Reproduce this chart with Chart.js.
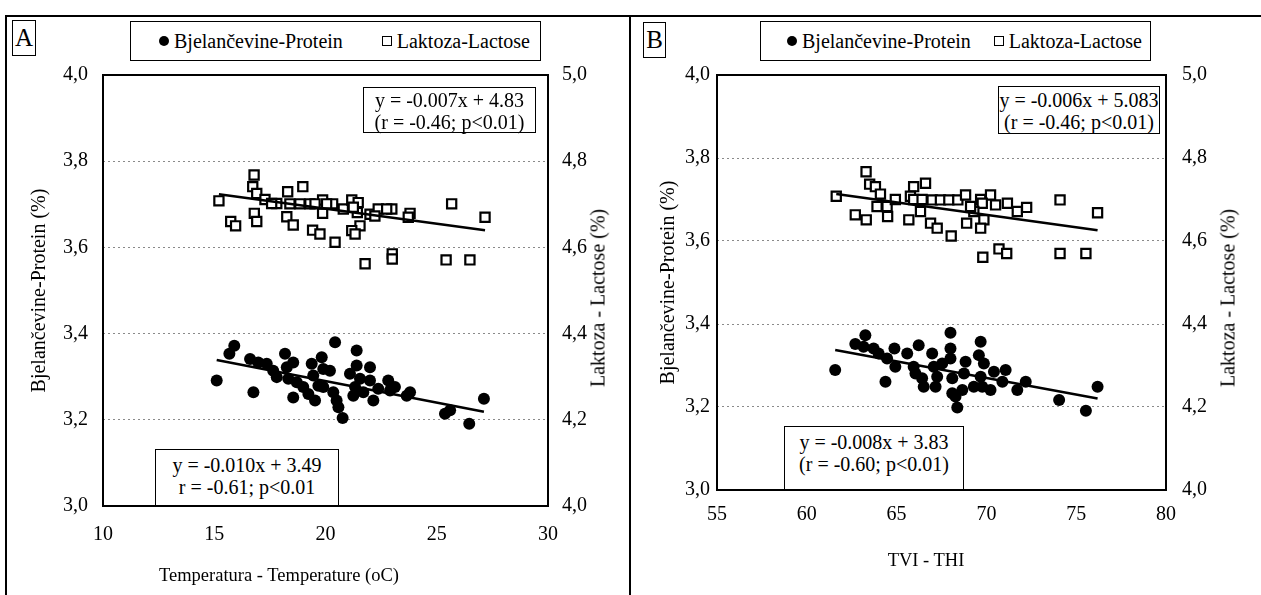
<!DOCTYPE html>
<html>
<head>
<meta charset="utf-8">
<script src="https://cdn.jsdelivr.net/npm/chart.js@4"></script>
<style>
  body { margin: 0; background: #fff; font-family: "Liberation Serif", "Times New Roman", serif; color: #000; }
  #page { position: relative; width: 1261px; height: 595px; overflow: hidden; }
  canvas { position: absolute; top: 0; }
  .ln { position: absolute; background: #000; }
  .box { position: absolute; border: 1.5px solid #000; background: #fff; box-sizing: border-box; }
  .tag { font-size: 25px; text-align: center; line-height: 34px; }
  .legend { font-size: 20px; display: flex; align-items: center; justify-content: space-between; }
  .dot { display: inline-block; width: 10px; height: 10px; border-radius: 50%; background: #000; margin-right: 5px; vertical-align: middle; position: relative; top: -2px; }
  .sq { display: inline-block; width: 8px; height: 8px; border: 1.5px solid #000; margin-right: 5px; vertical-align: middle; position: relative; top: -2px; }
  .eq { font-size: 20px; line-height: 22px; text-align: center; }
  .rtitle { position: absolute; font-size: 20px; white-space: nowrap; transform: translate(-50%, -50%) rotate(-90deg); }
  .xtitle { position: absolute; font-size: 18.5px; white-space: nowrap; transform: translate(-50%, -50%); }
</style>
</head>
<body>
<div id="page">
  <canvas id="chartA" width="630" height="595" style="left:0"></canvas>
  <canvas id="chartB" width="631" height="595" style="left:630px"></canvas>

  <div class="ln" style="left:5px;top:15px;width:1256px;height:1.5px"></div>
  <div class="ln" style="left:5px;top:15px;width:1.5px;height:580px"></div>
  <div class="ln" style="left:629px;top:15px;width:1.5px;height:580px"></div>

  <div class="box tag" style="left:12px;top:20px;width:24px;height:36px">A</div>
  <div class="box legend" style="left:130px;top:21px;width:411px;height:40px;padding:0 10px 0 28px">
    <span><span class="dot"></span>Bjelančevine-Protein</span>
    <span><span class="sq"></span>Laktoza-Lactose</span>
  </div>
  <div class="box eq" style="left:363px;top:87px;width:173px;height:46px;padding-top:1px">y = -0.007x + 4.83<br>(r = -0.46; p&lt;0.01)</div>
  <div class="box eq" style="left:155px;top:449px;width:184px;height:57px;padding-top:4px">y = -0.010x + 3.49<br>r = -0.61; p&lt;0.01</div>
  <div class="rtitle" style="left:598px;top:298px">Laktoza - Lactose (%)</div>
  <div class="xtitle" style="left:279px;top:575px">Temperatura - Temperature (oC)</div>

  <div class="box tag" style="left:643px;top:22px;width:23px;height:36px">B</div>
  <div class="box legend" style="left:760px;top:21px;width:391px;height:40px;padding:0 8px 0 26px">
    <span><span class="dot"></span>Bjelančevine-Protein</span>
    <span><span class="sq"></span>Laktoza-Lactose</span>
  </div>
  <div class="box eq" style="left:998px;top:86px;width:162px;height:48px;padding-top:2px">y = -0.006x + 5.083<br>(r = -0.46; p&lt;0.01)</div>
  <div class="box eq" style="left:784px;top:426px;width:180px;height:64px;padding-top:4px">y = -0.008x + 3.83<br>(r = -0.60; p&lt;0.01)</div>
  <div class="rtitle" style="left:1228px;top:298px">Laktoza - Lactose (%)</div>
  <div class="xtitle" style="left:926px;top:560px">TVI - THI</div>
</div>

<script>
// panel A - temperatura
var tempProteinX = [15.11, 15.90, 15.68, 16.76, 16.61, 16.98, 17.36, 17.65, 17.81, 18.18,
  18.55, 18.26, 18.33, 18.71, 18.55, 19.00, 19.38, 19.83, 19.90, 19.45,
  19.68, 19.23, 19.53, 19.90, 20.20, 20.43, 20.35, 20.50, 20.58, 20.77,
  21.40, 21.40, 21.10, 21.55, 21.33, 21.25, 21.70, 22.00, 22.00, 22.15,
  22.37, 22.82, 22.90, 23.12, 23.80, 23.65, 25.37, 25.60, 26.46, 27.12];
var tempProteinY = [3.291, 3.372, 3.353, 3.264, 3.341, 3.333, 3.330, 3.314, 3.299, 3.353,
  3.333, 3.322, 3.295, 3.287, 3.252, 3.276, 3.330, 3.345, 3.318, 3.303,
  3.279, 3.260, 3.245, 3.276, 3.314, 3.380, 3.264, 3.245, 3.229, 3.204,
  3.361, 3.326, 3.307, 3.295, 3.276, 3.256, 3.264, 3.322, 3.291, 3.245,
  3.272, 3.291, 3.268, 3.276, 3.264, 3.256, 3.214, 3.222, 3.191, 3.249];

var tempLactoseX = [15.21, 16.79, 16.73, 16.91, 17.28, 16.80, 16.91, 15.74, 15.96, 17.81,
  18.30, 18.98, 18.26, 18.55, 18.40, 18.85, 19.30, 19.87, 19.87, 20.32,
  20.80, 19.42, 19.75, 20.43, 21.18, 21.47, 21.43, 21.55, 21.18, 21.33,
  22.00, 22.37, 22.98, 23.80, 23.72, 25.67, 27.17, 21.78, 23.00, 23.00,
  25.42, 26.49, 17.58, 19.53, 20.05, 21.25, 22.22, 22.75];
var tempLactoseY = [4.708, 4.768, 4.741, 4.725, 4.711, 4.679, 4.660, 4.660, 4.650, 4.702,
  4.729, 4.741, 4.671, 4.652, 4.701, 4.701, 4.701, 4.710, 4.679, 4.701,
  4.689, 4.640, 4.631, 4.612, 4.710, 4.704, 4.681, 4.650, 4.639, 4.631,
  4.677, 4.689, 4.689, 4.679, 4.670, 4.701, 4.670, 4.562, 4.585, 4.573,
  4.571, 4.571, 4.702, 4.701, 4.701, 4.693, 4.673, 4.689];

// panel B - TVI
var thiProteinX = [61.58, 63.26, 62.70, 63.16, 63.72, 64.00, 64.38, 64.47, 64.88, 64.93,
  65.59, 66.23, 65.95, 66.05, 66.42, 66.51, 66.98, 67.07, 67.26, 67.17,
  67.54, 68.00, 68.00, 68.00, 68.10, 68.10, 68.38, 68.66, 68.84, 68.75,
  69.68, 69.58, 69.86, 69.68, 69.77, 70.23, 70.42, 71.07, 70.89, 71.72,
  72.19, 74.05, 75.54, 76.19, 68.28, 69.30];
var thiProteinY = [3.289, 3.373, 3.352, 3.345, 3.341, 3.329, 3.261, 3.317, 3.341, 3.297,
  3.329, 3.349, 3.297, 3.281, 3.269, 3.249, 3.329, 3.297, 3.273, 3.249,
  3.305, 3.379, 3.341, 3.317, 3.269, 3.233, 3.199, 3.241, 3.309, 3.281,
  3.357, 3.325, 3.305, 3.273, 3.249, 3.241, 3.285, 3.289, 3.261, 3.241,
  3.261, 3.217, 3.191, 3.249, 3.225, 3.249];

var thiLactoseX = [61.64, 63.30, 63.50, 63.82, 64.10, 63.91, 64.47, 62.70, 63.31, 64.50,
  64.93, 65.95, 66.61, 65.77, 65.95, 66.42, 66.98, 67.44, 67.91, 68.41,
  68.84, 66.33, 65.68, 66.89, 67.26, 68.04, 68.90, 69.68, 70.23, 69.77,
  69.30, 69.86, 69.68, 70.51, 71.17, 71.72, 72.24, 74.10, 76.19, 69.80,
  70.70, 71.13, 74.10, 75.54, 69.12];
var thiLactoseY = [4.708, 4.767, 4.737, 4.731, 4.713, 4.683, 4.683, 4.663, 4.651, 4.659,
  4.700, 4.731, 4.739, 4.708, 4.700, 4.700, 4.699, 4.699, 4.699, 4.699,
  4.711, 4.671, 4.651, 4.643, 4.631, 4.612, 4.643, 4.700, 4.711, 4.691,
  4.671, 4.651, 4.631, 4.687, 4.691, 4.671, 4.681, 4.699, 4.668, 4.561,
  4.581, 4.570, 4.570, 4.570, 4.683];

// trend lines: [slope, intercept] as printed in the chart
var tempProteinFit = [-0.010, 3.49];
var tempLactoseFit = [-0.007, 4.83];
var thiProteinFit = [-0.008, 3.83];
var thiLactoseFit = [-0.006, 5.083];

var proteinTicks = [3.0, 3.2, 3.4, 3.6, 3.8, 4.0];
var lactoseTicks = [4.0, 4.2, 4.4, 4.6, 4.8, 5.0];

Chart.defaults.font.family = '"Liberation Serif", "Times New Roman", serif';
Chart.defaults.font.size = 20;
Chart.defaults.color = '#000';

function pts(xs, ys) {
  return xs.map(function(x, i) { return { x: x, y: ys[i] }; });
}

function fitLine(xs, fit) {
  var lo = Math.min.apply(null, xs), hi = Math.max.apply(null, xs);
  return [{ x: lo, y: fit[0] * lo + fit[1] }, { x: hi, y: fit[0] * hi + fit[1] }];
}

function comma(v) { return v.toFixed(1).replace('.', ','); }

var frame = {
  id: 'frame',
  afterDatasetsDraw: function(chart) {
    var a = chart.chartArea, ctx = chart.ctx;
    ctx.save();
    ctx.strokeStyle = '#000';
    ctx.lineWidth = 2;
    ctx.strokeRect(a.left, a.top, a.right - a.left, a.bottom - a.top);
    ctx.restore();
  }
};

function panel(id, o) {
  new Chart(document.getElementById(id), {
    type: 'scatter',
    data: {
      datasets: [
        { type: 'line', data: fitLine(o.px, o.pfit), yAxisID: 'y', borderColor: '#000', borderWidth: 2.5,
          pointRadius: 0, order: 0 },
        { type: 'line', data: fitLine(o.lx, o.lfit), yAxisID: 'y2', borderColor: '#000', borderWidth: 2.5,
          pointRadius: 0, order: 0 },
        { label: 'Bjelančevine-Protein', data: pts(o.px, o.py), yAxisID: 'y', pointStyle: 'circle',
          pointRadius: 6, backgroundColor: '#000', borderColor: '#000', borderWidth: 0, order: 1 },
        { label: 'Laktoza-Lactose', data: pts(o.lx, o.ly), yAxisID: 'y2', pointStyle: 'rect',
          pointRadius: 6.5, backgroundColor: '#fff', borderColor: '#000', borderWidth: 2.2, order: 2 }
      ]
    },
    options: {
      responsive: false,
      animation: false,
      layout: { padding: { top: o.top, left: 0, right: 0, bottom: 0 } },
      plugins: { legend: { display: false }, tooltip: { enabled: false } },
      scales: {
        x: {
          type: 'linear', min: o.xmin, max: o.xmax,
          ticks: { stepSize: 5, padding: o.xpad },
          grid: { display: false },
          border: { display: false },
          afterFit: function(s) { s.height = o.xh; }
        },
        y: {
          position: 'left', min: 3, max: 4,
          afterBuildTicks: function(s) { s.ticks = proteinTicks.map(function(v) { return { value: v }; }); },
          ticks: { callback: comma, padding: o.lpad },
          grid: { color: '#8a8a8a', lineWidth: 1, drawTicks: false },
          border: { display: false, dash: [2, 3] },
          title: { display: true, text: 'Bjelančevine-Protein (%)', font: { size: 20 }, padding: { top: o.ltp, bottom: 0 } },
          afterFit: function(s) { s.width = o.lw; }
        },
        y2: {
          position: 'right', min: 4, max: 5,
          afterBuildTicks: function(s) { s.ticks = lactoseTicks.map(function(v) { return { value: v }; }); },
          ticks: { callback: comma, padding: o.rpad },
          grid: { display: false },
          border: { display: false },
          afterFit: function(s) { s.width = o.rw; }
        }
      }
    },
    plugins: [frame]
  });
}

panel('chartA', {
  px: tempProteinX, py: tempProteinY, lx: tempLactoseX, ly: tempLactoseY,
  pfit: tempProteinFit, lfit: tempLactoseFit,
  xmin: 10, xmax: 30,
  top: 75, xh: 89, lw: 103, rw: 82, ltp: 28, lpad: 15, rpad: 6, xpad: 9
});

panel('chartB', {
  px: thiProteinX, py: thiProteinY, lx: thiLactoseX, ly: thiLactoseY,
  pfit: thiProteinFit, lfit: thiLactoseFit,
  xmin: 55, xmax: 80,
  top: 75, xh: 105, lw: 87, rw: 95, ltp: 27, lpad: 7, rpad: 8, xpad: 5
});
</script>
</body>
</html>
